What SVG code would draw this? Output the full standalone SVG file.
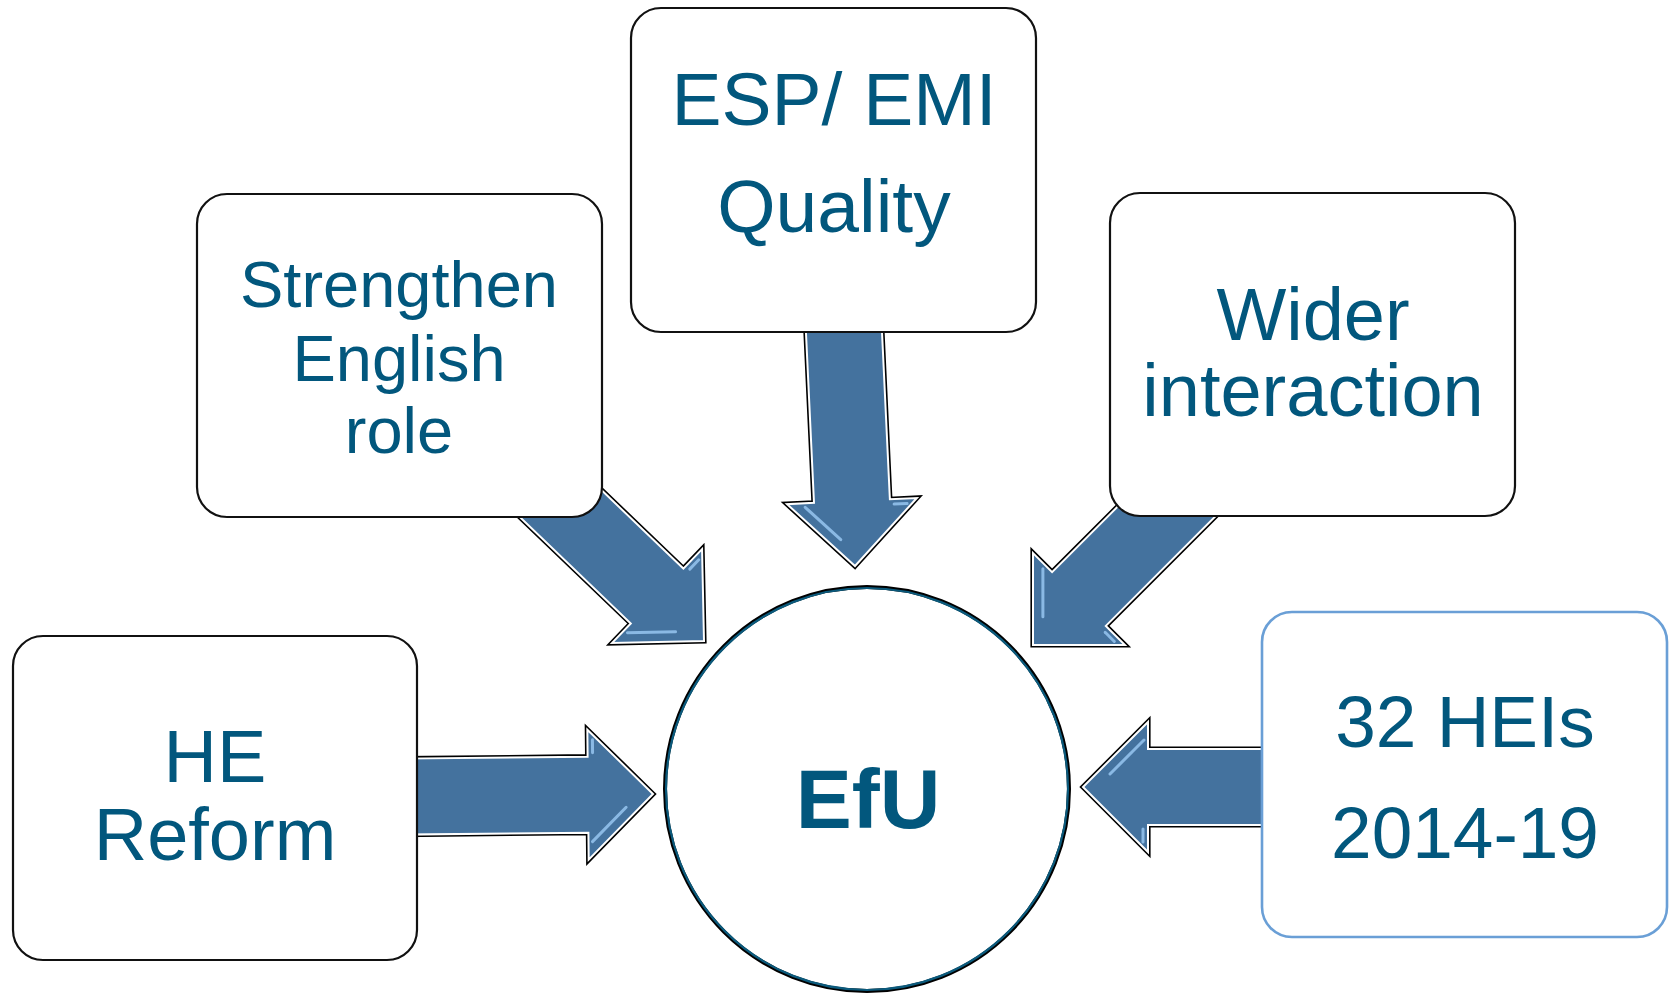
<svg xmlns="http://www.w3.org/2000/svg" width="1671" height="1000" viewBox="0 0 1671 1000">
<style>
.box{fill:#fff;stroke:#111;stroke-width:2.2}
.boxb{fill:#fff;stroke:#6a9fd6;stroke-width:2.6}
.lbl{font-family:"Liberation Sans",Arial,sans-serif;fill:#02577d;text-anchor:middle}
.arr-o{fill:none;stroke:#000;stroke-width:5.2;stroke-linejoin:miter}
.arr{fill:#44729e;stroke:#fff;stroke-width:2;stroke-linejoin:miter}
.hl{fill:none;stroke:#9ccaf5;stroke-width:3;stroke-linecap:round;opacity:0.8}
</style>
<defs>
<g id="hl">
<path class="hl" d="M-61,47 L-27,13"/>
<path class="hl" d="M-60,-55 L-60,-42"/>
</g>
</defs>
<rect width="1671" height="1000" fill="#fff"/>
<g id="connectors">
<g id="arrow-he" transform="translate(653,794) rotate(-0.6)">
<path class="arr-o" d="M0,0 L-65,-65 L-65,-38 L-250,-38 L-250,38 L-65,38 L-65,65 Z"/>
<path class="arr" d="M0,0 L-65,-65 L-65,-38 L-250,-38 L-250,38 L-65,38 L-65,65 Z"/>
<use href="#hl"/>
</g>
<g id="arrow-heis" transform="translate(1083,787) rotate(180)">
<path class="arr-o" d="M0,0 L-65,-65 L-65,-38 L-200,-38 L-200,38 L-65,38 L-65,65 Z"/>
<path class="arr" d="M0,0 L-65,-65 L-65,-38 L-200,-38 L-200,38 L-65,38 L-65,65 Z"/>
<use href="#hl"/>
</g>
<g id="arrow-esp" transform="translate(855,566) rotate(87.3)">
<path class="arr-o" d="M0,0 L-65,-65 L-65,-38 L-250,-38 L-250,38 L-65,38 L-65,65 Z"/>
<path class="arr" d="M0,0 L-65,-65 L-65,-38 L-250,-38 L-250,38 L-65,38 L-65,65 Z"/>
<use href="#hl"/>
</g>
<g id="arrow-str" transform="translate(704,641) rotate(43.8)">
<path class="arr-o" d="M0,0 L-65,-65 L-65,-38 L-240,-38 L-240,38 L-65,38 L-65,65 Z"/>
<path class="arr" d="M0,0 L-65,-65 L-65,-38 L-240,-38 L-240,38 L-65,38 L-65,65 Z"/>
<use href="#hl"/>
</g>
<g id="arrow-wider" transform="translate(1033,645) rotate(135)">
<path class="arr-o" d="M0,0 L-65,-65 L-65,-38 L-240,-38 L-240,38 L-65,38 L-65,65 Z"/>
<path class="arr" d="M0,0 L-65,-65 L-65,-38 L-240,-38 L-240,38 L-65,38 L-65,65 Z"/>
<use href="#hl"/>
</g>
</g>
<g id="node-esp">
<rect class="box" x="631" y="8" width="405" height="324" rx="30"/>
<text class="lbl" x="834" y="125" font-size="75">ESP/ EMI</text>
<text class="lbl" x="834" y="232" font-size="75">Quality</text>
</g>
<g id="node-strengthen">
<rect class="box" x="197" y="194" width="405" height="323" rx="30"/>
<text class="lbl" x="399" y="307" font-size="65">Strengthen</text>
<text class="lbl" x="399" y="381" font-size="65">English</text>
<text class="lbl" x="399" y="453" font-size="65">role</text>
</g>
<g id="node-wider">
<rect class="box" x="1110" y="193" width="405" height="323" rx="30"/>
<text class="lbl" x="1313" y="340" font-size="74">Wider</text>
<text class="lbl" x="1313" y="416" font-size="74">interaction</text>
</g>
<g id="node-he">
<rect class="box" x="13" y="636" width="404" height="324" rx="30"/>
<text class="lbl" x="215" y="782" font-size="74">HE</text>
<text class="lbl" x="215" y="860" font-size="74">Reform</text>
</g>
<g id="node-heis">
<rect class="boxb" x="1262" y="612" width="405" height="325" rx="30"/>
<text class="lbl" x="1465" y="747" font-size="73">32 HEIs</text>
<text class="lbl" x="1465" y="858" font-size="73">2014-19</text>
</g>
<g id="node-efu">
<circle cx="867" cy="789" r="202" fill="#fff" stroke="#000" stroke-width="4"/>
<circle cx="867" cy="789" r="201" fill="none" stroke="#0b5a7c" stroke-width="2.2"/>
<text class="lbl" x="868" y="828" font-size="84" font-weight="bold">EfU</text>
</g>
</svg>
